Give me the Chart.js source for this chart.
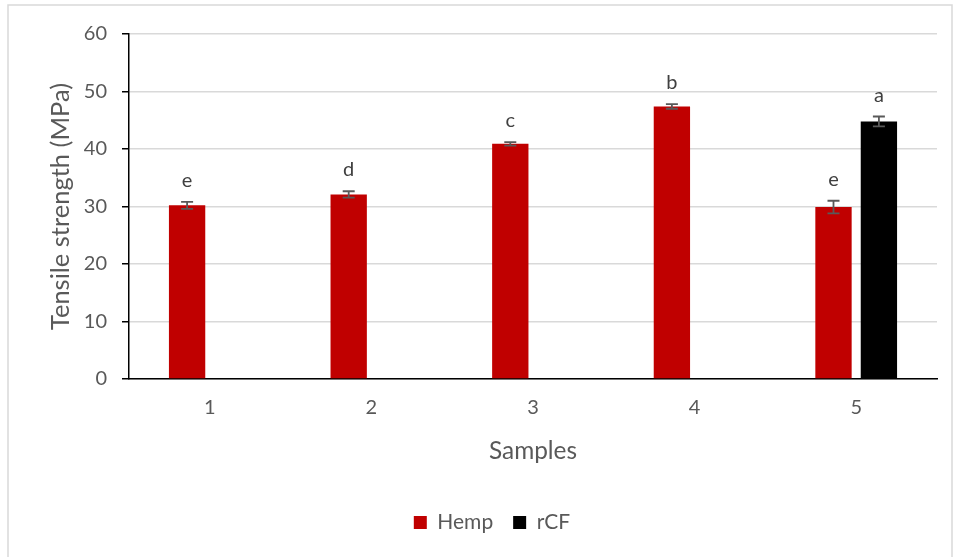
<!DOCTYPE html>
<html>
<head>
<meta charset="utf-8">
<script src="https://cdn.jsdelivr.net/npm/chart.js@4/dist/chart.umd.min.js"></script>
<style>
  html, body { margin: 0; padding: 0; background: #ffffff; }
  #wrap { position: relative; width: 954px; height: 557px; }
</style>
</head>
<body>
<div id="wrap"><canvas id="chart" width="954" height="557"></canvas></div>
<script>
// Tensile strength of samples 1-5 (mean and standard deviation, MPa)
const samples = ['1', '2', '3', '4', '5'];
const hempStrength = [30.2, 32.1, 40.9, 47.4, 29.9];
const hempError = [0.6, 0.55, 0.3, 0.4, 1.1];
const rcfStrength = [null, null, null, null, 44.8];
const rcfError = [null, null, null, null, 0.85];
// Significance groups written above each bar
const hempGroups = ['e', 'd', 'c', 'b', 'e'];
const rcfGroups = [null, null, null, null, 'a'];

const TEXT = '#595959';
const FONT = 'Lato, "Open Sans", sans-serif';

// Frame around the whole figure
const framePlugin = {
  id: 'frame',
  beforeDraw(chart) {
    const ctx = chart.ctx;
    ctx.save();
    ctx.strokeStyle = '#d9d9d9';
    ctx.lineWidth = 1.5;
    ctx.strokeRect(8, 5, 944, 600);
    ctx.restore();
  }
};

// Error bars and group letters, positioned through the chart's scales
const errorPlugin = {
  id: 'errorBars',
  afterDatasetsDraw(chart) {
    const ctx = chart.ctx;
    const y = chart.scales.y;
    const errs = [hempError, rcfError];
    const groups = [hempGroups, rcfGroups];
    ctx.save();
    chart.data.datasets.forEach((ds, di) => {
      const meta = chart.getDatasetMeta(di);
      meta.data.forEach((bar, i) => {
        const v = ds.data[i];
        if (v === null || v === undefined) return;
        const e = errs[di][i] || 0;
        const x = bar.x;
        const yTop = y.getPixelForValue(v + e);
        const yBot = y.getPixelForValue(v - e);
        ctx.strokeStyle = '#595959';
        ctx.lineWidth = 1.8;
        ctx.beginPath();
        ctx.moveTo(x, yTop); ctx.lineTo(x, yBot);
        ctx.moveTo(x - 6, yTop); ctx.lineTo(x + 6, yTop);
        ctx.moveTo(x - 6, yBot); ctx.lineTo(x + 6, yBot);
        ctx.stroke();
        const g = groups[di][i];
        if (g) {
          ctx.fillStyle = '#404040';
          ctx.font = '20px ' + FONT;
          ctx.textAlign = 'center';
          ctx.textBaseline = 'alphabetic';
          ctx.fillText(g, x, yTop - 15);
        }
      });
    });
    ctx.restore();
  }
};

new Chart(document.getElementById('chart'), {
  type: 'bar',
  data: {
    labels: samples,
    datasets: [
      { label: 'Hemp', data: hempStrength, backgroundColor: '#C00000',
        categoryPercentage: 0.562, barPercentage: 0.8 },
      { label: 'rCF', data: rcfStrength, backgroundColor: '#000000',
        categoryPercentage: 0.562, barPercentage: 0.8 }
    ]
  },
  options: {
    responsive: false,
    animation: false,
    devicePixelRatio: 1,
    layout: { padding: { top: 34, right: 17, left: 47, bottom: 14 } },
    plugins: {
      legend: {
        position: 'bottom',
        labels: {
          color: TEXT,
          font: { family: FONT, size: 21 },
          boxWidth: 13, boxHeight: 13,
          padding: 20
        }
      },
      tooltip: { enabled: false }
    },
    scales: {
      x: {
        grid: { display: false },
        border: { color: '#000000', width: 1.5 },
        ticks: { color: TEXT, font: { family: FONT, size: 20 }, padding: 9 },
        title: { display: true, text: 'Samples', color: TEXT,
                 font: { family: FONT, size: 24.4 }, padding: { top: 0, bottom: 26 } },
        afterFit(scale) { scale.height = 113; }
      },
      y: {
        min: 0, max: 60,
        ticks: { stepSize: 10, color: TEXT, font: { family: FONT, size: 20 }, padding: 15 },
        grid: { color: '#d9d9d9', lineWidth: 1.5, tickColor: '#000000', tickLength: 7 },
        border: { color: '#000000', width: 1.5 },
        title: { display: true, text: 'Tensile strength (MPa)', color: TEXT,
                 font: { family: FONT, size: 25.5 }, padding: { top: -2, bottom: 0 } },
        afterFit(scale) { scale.width = 82; }
      }
    }
  },
  plugins: [framePlugin, errorPlugin]
});
</script>
</body>
</html>
